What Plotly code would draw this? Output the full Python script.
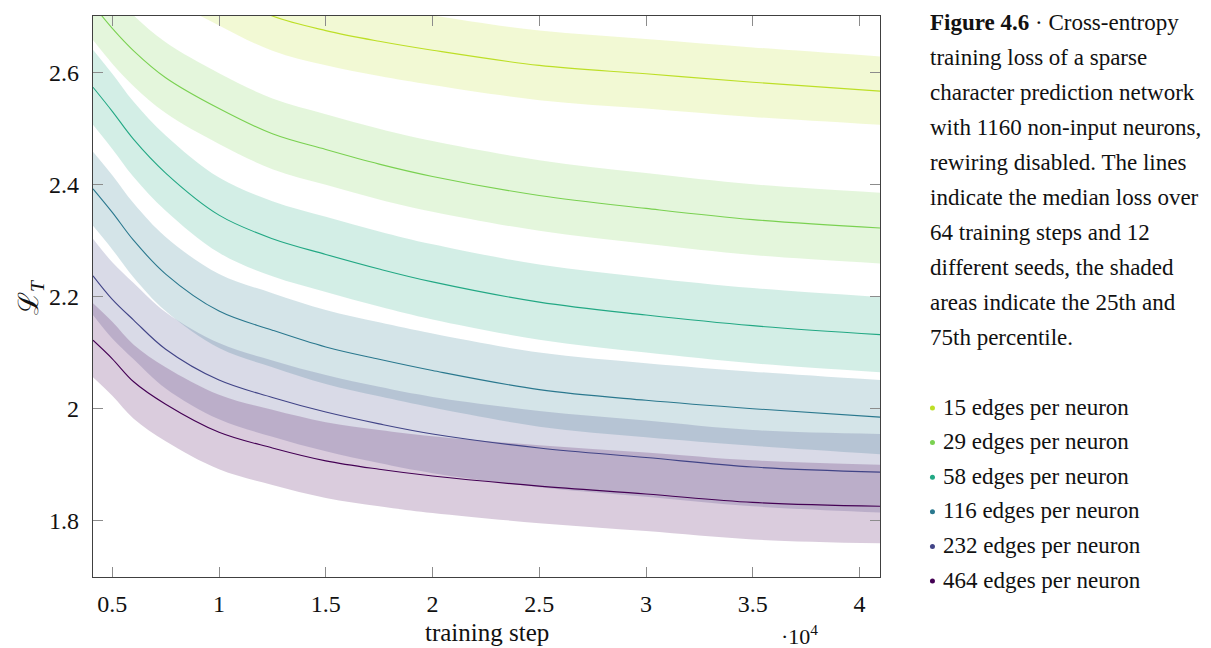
import plotly.graph_objects as go

# ---------------- data ----------------
steps = [4096, 5000, 6000, 7500, 10000, 12500, 15000, 17500, 20000, 25000, 30000, 35000, 40960]

series_names = ["15 edges per neuron", "29 edges per neuron", "58 edges per neuron",
                "116 edges per neuron", "232 edges per neuron", "464 edges per neuron"]
series_colors = ["#bddf26", "#7ad151", "#22a884", "#2a788e", "#414487", "#440154"]

med_15 = [2.950, 2.900, 2.860, 2.800, 2.745, 2.700, 2.674, 2.655, 2.639, 2.612, 2.597, 2.582, 2.566]
lo_15 = [2.888, 2.838, 2.798, 2.738, 2.683, 2.638, 2.612, 2.593, 2.577, 2.550, 2.535, 2.520, 2.506]
hi_15 = [3.012, 2.962, 2.922, 2.862, 2.807, 2.762, 2.736, 2.717, 2.701, 2.674, 2.659, 2.644, 2.628]

med_29 = [2.720, 2.678, 2.638, 2.590, 2.535, 2.490, 2.462, 2.436, 2.414, 2.380, 2.357, 2.337, 2.322]
lo_29 = [2.657, 2.615, 2.575, 2.527, 2.472, 2.427, 2.399, 2.373, 2.351, 2.317, 2.294, 2.274, 2.259]
hi_29 = [2.783, 2.741, 2.701, 2.653, 2.598, 2.553, 2.525, 2.499, 2.477, 2.443, 2.420, 2.400, 2.385]

med_58 = [2.573, 2.530, 2.480, 2.420, 2.345, 2.303, 2.275, 2.249, 2.226, 2.190, 2.167, 2.148, 2.132]
lo_58 = [2.506, 2.463, 2.413, 2.353, 2.278, 2.236, 2.208, 2.182, 2.159, 2.123, 2.100, 2.081, 2.065]
hi_58 = [2.640, 2.597, 2.547, 2.487, 2.412, 2.370, 2.342, 2.316, 2.293, 2.257, 2.234, 2.215, 2.199]

med_116 = [2.392, 2.350, 2.300, 2.240, 2.174, 2.140, 2.110, 2.088, 2.068, 2.034, 2.015, 2.000, 1.985]
lo_116 = [2.326, 2.284, 2.234, 2.174, 2.108, 2.074, 2.044, 2.022, 2.002, 1.968, 1.949, 1.934, 1.919]
hi_116 = [2.458, 2.416, 2.366, 2.306, 2.240, 2.206, 2.176, 2.154, 2.134, 2.100, 2.081, 2.066, 2.051]

med_232 = [2.237, 2.195, 2.158, 2.106, 2.051, 2.020, 1.994, 1.973, 1.955, 1.930, 1.913, 1.896, 1.887]
lo_232 = [2.167, 2.125, 2.088, 2.036, 1.981, 1.950, 1.924, 1.903, 1.885, 1.860, 1.843, 1.826, 1.815]
hi_232 = [2.303, 2.261, 2.224, 2.172, 2.117, 2.086, 2.060, 2.039, 2.021, 1.996, 1.979, 1.962, 1.955]

med_464 = [2.122, 2.089, 2.048, 2.008, 1.958, 1.930, 1.907, 1.892, 1.880, 1.862, 1.848, 1.833, 1.826]
lo_464 = [2.056, 2.023, 1.982, 1.942, 1.892, 1.864, 1.841, 1.826, 1.814, 1.796, 1.782, 1.767, 1.760]
hi_464 = [2.188, 2.155, 2.114, 2.074, 2.025, 1.998, 1.976, 1.962, 1.951, 1.935, 1.922, 1.908, 1.900]

medians = [med_15, med_29, med_58, med_116, med_232, med_464]
lowers = [lo_15, lo_29, lo_58, lo_116, lo_232, lo_464]
uppers = [hi_15, hi_29, hi_58, hi_116, hi_232, hi_464]

x_tick_vals = [5000, 10000, 15000, 20000, 25000, 30000, 35000, 40000]
x_tick_text = ["0.5", "1", "1.5", "2", "2.5", "3", "3.5", "4"]
y_tick_vals = [1.8, 2.0, 2.2, 2.4, 2.6]
y_tick_text = ["1.8", "2", "2.2", "2.4", "2.6"]

caption_lines = [
    "<b>Figure 4.6</b> · Cross-entropy",
    "training loss of a sparse",
    "character prediction network",
    "with 1160 non-input neurons,",
    "rewiring disabled. The lines",
    "indicate the median loss over",
    "64 training steps and 12",
    "different seeds, the shaded",
    "areas indicate the 25th and",
    "75th percentile.",
]

# ---------------- layout geometry ----------------
# the page body has an 8px margin, so the figure is made 8px smaller and all
# target pixel positions are shifted by that offset
OFF = 8
W, H = 1211 - OFF, 648 - OFF
PLOT_L, PLOT_R, PLOT_T, PLOT_B = 93, 880.5, 16, 577   # target pixel box
L = PLOT_L - OFF
T = PLOT_T - OFF
R = W - (PLOT_R - OFF)
B = H - (PLOT_B - OFF)
FONT = "Liberation Serif"


def hex_rgba(h, a):
    h = h.lstrip("#")
    r, g, b = int(h[0:2], 16), int(h[2:4], 16), int(h[4:6], 16)
    return f"rgba({r},{g},{b},{a})"


def px_x(px):
    return (px - PLOT_L) / (PLOT_R - PLOT_L)


def px_y(py):
    return (PLOT_B - py) / (PLOT_B - PLOT_T)


fig = go.Figure()

# bands (25th - 75th percentile)
for name, col, lo, hi in zip(series_names, series_colors, lowers, uppers):
    fig.add_trace(go.Scatter(
        x=steps, y=lo, mode="lines", line=dict(width=0, shape="spline", smoothing=1.0),
        hoverinfo="skip", showlegend=False))
    fig.add_trace(go.Scatter(
        x=steps, y=hi, mode="lines", line=dict(width=0, shape="spline", smoothing=1.0),
        fill="tonexty", fillcolor=hex_rgba(col, 0.2), hoverinfo="skip", showlegend=False))

# median lines
for name, col, med in zip(series_names, series_colors, medians):
    fig.add_trace(go.Scatter(
        x=steps, y=med, mode="lines", name=name,
        line=dict(color=col, width=1.1, shape="spline", smoothing=1.0), showlegend=False))

axis_common = dict(
    showgrid=False, zeroline=False, showline=True, linecolor="#404040", linewidth=1.3,
    mirror="ticks", ticks="inside", ticklen=10, tickcolor="#8c8c8c", tickwidth=1.2,
    tickfont=dict(family=FONT, size=24, color="#111"),
)

fig.update_layout(
    width=W, height=H, margin=dict(l=L, r=R, t=T, b=B, autoexpand=False),
    paper_bgcolor="white", plot_bgcolor="white",
    xaxis=dict(range=[4096, 40960], tickvals=x_tick_vals, ticktext=x_tick_text,
               ticklabelstandoff=5, **axis_common),
    yaxis=dict(range=[1.7, 2.7], tickvals=y_tick_vals, ticktext=y_tick_text,
               ticklabelstandoff=8, **axis_common),
    showlegend=False,
)

ann = []
# axis titles
ann.append(dict(x=0.5, y=px_y(632), xref="paper", yref="paper", text="training step",
                showarrow=False, font=dict(family=FONT, size=25, color="#111"),
                xanchor="center", yanchor="middle"))
ann.append(dict(x=px_x(800), y=px_y(635), xref="paper", yref="paper", text="·10<sup>4</sup>",
                showarrow=False, font=dict(family=FONT, size=22, color="#111"),
                xanchor="center", yanchor="middle"))
ann.append(dict(x=px_x(30), y=px_y(297), xref="paper", yref="paper", text="ℒ<sub><i>T</i></sub>",
                showarrow=False, textangle=-90, font=dict(family=FONT, size=28, color="#111"),
                xanchor="center", yanchor="middle"))

# caption
for i, line in enumerate(caption_lines):
    ann.append(dict(x=px_x(929), y=px_y(22 + 35 * i), xref="paper", yref="paper", text=line,
                    showarrow=False, font=dict(family=FONT, size=23, color="#111"),
                    xanchor="left", yanchor="middle", align="left"))

# legend entries
shapes = []
for i, (name, col) in enumerate(zip(series_names, series_colors)):
    cy = 407 + 34.6 * i
    ann.append(dict(x=px_x(942), y=px_y(cy), xref="paper", yref="paper", text=name,
                    showarrow=False, font=dict(family=FONT, size=23, color="#111"),
                    xanchor="left", yanchor="middle", align="left"))
    shapes.append(dict(type="circle", xref="paper", yref="paper",
                       x0=px_x(930.5), x1=px_x(935.5), y0=px_y(cy + 3.5), y1=px_y(cy - 1.5),
                       fillcolor=col, line=dict(width=0)))

fig.update_layout(annotations=ann, shapes=shapes)
fig.write_html("out.html")
